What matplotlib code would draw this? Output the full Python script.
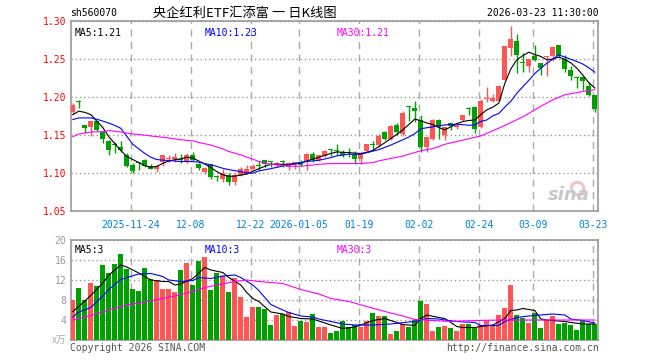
import matplotlib
matplotlib.use('Agg')
import matplotlib.pyplot as plt
import numpy as np

symbol = 'sh560070'
title = '央企红利ETF汇添富 一 日K线图'
stamp = '2026-03-23 11:30:00'

# daily candles, oldest first
opens = [1.180, 1.195, 1.163, 1.161, 1.168, 1.154, 1.143, 1.1375, 1.134, 1.124,
         1.111, 1.1135, 1.1175, 1.109, 1.106, 1.115, 1.119, 1.119, 1.119, 1.115,
         1.124, 1.112, 1.102, 1.112, 1.0953, 1.092, 1.0974, 1.089, 1.0978, 1.0991,
         1.1057, 1.110, 1.118, 1.1148, 1.112, 1.1155, 1.1083, 1.1105, 1.115, 1.115,
         1.125, 1.118, 1.1233, 1.131, 1.1295, 1.128, 1.1273, 1.125, 1.1184, 1.1295,
         1.1378, 1.1368, 1.154, 1.1456, 1.1632, 1.1513, 1.1873, 1.1851, 1.1697, 1.1346,
         1.1447, 1.1697, 1.1504, 1.1658, 1.1605, 1.1693, 1.1845, 1.1868, 1.1614, 1.1970,
         1.1943, 1.1952, 1.2228, 1.2645, 1.2741, 1.2458, 1.2404, 1.2535, 1.2447, 1.2524,
         1.2535, 1.268, 1.250, 1.2351, 1.2252, 1.2263, 1.214, 1.2031]
highs = [1.192, 1.196, 1.164, 1.168, 1.169, 1.155, 1.144, 1.141, 1.142, 1.126,
         1.114, 1.115, 1.119, 1.112, 1.111, 1.124, 1.124, 1.126, 1.125, 1.126,
         1.128, 1.113, 1.108, 1.112, 1.098, 1.1057, 1.100, 1.100, 1.108, 1.111,
         1.112, 1.116, 1.118, 1.116, 1.115, 1.118, 1.115, 1.115, 1.117, 1.126,
         1.128, 1.124, 1.130, 1.1315, 1.138, 1.130, 1.1335, 1.1295, 1.128, 1.139,
         1.1425, 1.152, 1.1557, 1.164, 1.1654, 1.182, 1.188, 1.1947, 1.176, 1.148,
         1.1715, 1.1715, 1.1613, 1.1658, 1.1645, 1.1768, 1.1868, 1.1886, 1.1974, 1.2132,
         1.2044, 1.2162, 1.2675, 1.2939, 1.2833, 1.2579, 1.2504, 1.2689, 1.2447, 1.2544,
         1.2667, 1.2689, 1.2557, 1.2404, 1.2272, 1.2281, 1.2193, 1.2031]
lows = [1.178, 1.186, 1.153, 1.149, 1.156, 1.140, 1.124, 1.127, 1.128, 1.108,
        1.100, 1.104, 1.108, 1.105, 1.101, 1.110, 1.115, 1.115, 1.114, 1.114,
        1.116, 1.104, 1.099, 1.0925, 1.090, 1.0885, 1.084, 1.084, 1.097, 1.0991,
        1.104, 1.104, 1.108, 1.108, 1.108, 1.108, 1.104, 1.106, 1.109, 1.1045,
        1.115, 1.116, 1.121, 1.123, 1.1235, 1.121, 1.121, 1.1127, 1.1127, 1.128,
        1.1302, 1.1346, 1.1434, 1.1434, 1.150, 1.149, 1.169, 1.1675, 1.128, 1.128,
        1.144, 1.1447, 1.1439, 1.157, 1.1585, 1.168, 1.1759, 1.1526, 1.160, 1.193,
        1.193, 1.1943, 1.222, 1.2535, 1.2316, 1.2325, 1.2325, 1.2469, 1.2294, 1.2272,
        1.2469, 1.2526, 1.2325, 1.2228, 1.2118, 1.2096, 1.2009, 1.1798]
closes = [1.189, 1.194, 1.159, 1.168, 1.157, 1.145, 1.130, 1.1365, 1.130, 1.110,
          1.1035, 1.113, 1.1097, 1.106, 1.109, 1.124, 1.120, 1.121, 1.118, 1.124,
          1.118, 1.107, 1.107, 1.0955, 1.0948, 1.100, 1.089, 1.0978, 1.1057, 1.1057,
          1.1097, 1.109, 1.1127, 1.1143, 1.114, 1.115, 1.114, 1.1145, 1.1114, 1.125,
          1.118, 1.1235, 1.129, 1.1305, 1.129, 1.1245, 1.1268, 1.1184, 1.1272, 1.1382,
          1.1374, 1.149, 1.1447, 1.1623, 1.1544, 1.1794, 1.1868, 1.182, 1.1346, 1.1478,
          1.1697, 1.161, 1.1605, 1.1623, 1.1636, 1.1759, 1.184, 1.1583, 1.1943, 1.1976,
          1.1987, 1.2149, 1.2675, 1.2768, 1.2548, 1.2454, 1.2504, 1.2491, 1.2382, 1.2528,
          1.2658, 1.2535, 1.2368, 1.2281, 1.2248, 1.2206, 1.2031, 1.1842]
volumes = [8.1, 10.5, 8.0, 11.5, 10.8, 15.0, 13.5, 15.2, 17.2, 14.3,
           10.3, 9.8, 14.5, 12.3, 12.0, 10.2, 10.2, 9.6, 14.0, 15.5,
           11.0, 15.9, 16.7, 10.0, 13.5, 12.9, 9.7, 12.5, 8.7, 4.7,
           6.7, 6.7, 6.2, 3.0, 5.0, 5.3, 5.7, 2.8, 3.9, 3.7,
           5.2, 2.7, 2.7, 1.5, 1.9, 3.9, 2.7, 3.0, 2.7, 3.9,
           5.5, 4.9, 4.9, 1.2, 1.9, 3.2, 2.7, 4.1, 7.9, 7.2,
           1.9, 2.7, 2.8, 2.5, 1.9, 3.3, 3.3, 2.5, 3.0, 3.9,
           3.1, 5.0, 6.5, 11.1, 5.0, 4.5, 3.5, 5.5, 2.5, 4.1,
           4.8, 3.2, 3.5, 3.0, 2.0, 3.9, 3.3, 3.3]

# moving averages (candle index, value)
ma5_i = [0, 1, 2, 3, 5, 6, 7, 8, 9, 10, 11, 12, 13, 14, 15, 16, 17, 18, 19, 20,
         21, 22, 23, 24, 25, 26, 27, 28, 29, 30, 31, 32, 33, 35, 36, 38, 39, 41, 43, 44,
         46, 48, 49, 50, 51, 52, 53, 54, 55, 56, 57, 58, 59, 60, 61, 62, 63, 64, 65, 66,
         67, 68, 69, 70, 71, 72, 73, 74, 75, 76, 77, 78, 79, 80, 81, 82, 83, 84, 85, 86, 87]
ma5_v = [1.177, 1.1815, 1.180, 1.177, 1.160, 1.148, 1.139, 1.130, 1.122, 1.118,
         1.114, 1.110, 1.108, 1.109, 1.113, 1.116, 1.1178, 1.119, 1.121, 1.120,
         1.116, 1.112, 1.1075, 1.1022, 1.098, 1.0958, 1.0962, 1.0975, 1.099, 1.1025,
         1.106, 1.109, 1.1118, 1.1118, 1.1114, 1.1136, 1.116, 1.121, 1.126, 1.128,
         1.127, 1.1259, 1.1275, 1.130, 1.135, 1.140, 1.1456, 1.151, 1.157, 1.164,
         1.1711, 1.169, 1.166, 1.164, 1.160, 1.157, 1.161, 1.165, 1.168, 1.1693,
         1.170, 1.177, 1.1833, 1.1868, 1.192, 1.218, 1.237, 1.249, 1.2544, 1.259,
         1.256, 1.2535, 1.2491, 1.250, 1.2526, 1.2495, 1.245, 1.238, 1.229, 1.219, 1.212]
ma10_i = [0, 1, 3, 4, 5, 6, 7, 8, 9, 10, 11, 12, 13, 14, 15, 16, 18, 20, 21, 23,
          24, 25, 26, 28, 29, 30, 31, 33, 35, 36, 38, 39, 41, 43, 44, 46, 48, 49, 51, 53,
          55, 56, 57, 58, 60, 62, 64, 66, 67, 68, 69, 70, 71, 72, 73, 74, 75, 76, 77, 78,
          79, 80, 81, 82, 84, 85, 86, 87]
ma10_v = [1.1705, 1.1727, 1.1727, 1.171, 1.1685, 1.166, 1.1628, 1.159, 1.1485, 1.138,
          1.132, 1.126, 1.121, 1.118, 1.1172, 1.1167, 1.1154, 1.1154, 1.1145, 1.111,
          1.109, 1.1065, 1.1048, 1.102, 1.1005, 1.100, 1.103, 1.106, 1.1095, 1.1114,
          1.1138, 1.1155, 1.117, 1.1205, 1.1228, 1.125, 1.125, 1.127, 1.131, 1.137,
          1.144, 1.1475, 1.152, 1.1585, 1.161, 1.1635, 1.1645, 1.163, 1.1635, 1.168,
          1.170, 1.1755, 1.1785, 1.187, 1.1945, 1.205, 1.2135, 1.222, 1.231, 1.238,
          1.2445, 1.250, 1.2555, 1.2526, 1.2469, 1.2435, 1.2385, 1.2328]
ma30_i = [0, 1, 3, 5, 6, 8, 10, 11, 13, 15, 16, 18, 20, 21, 23, 25, 26, 28, 30, 31,
          33, 35, 36, 38, 40, 41, 43, 48, 50, 51, 53, 55, 56, 58, 60, 61, 62, 64, 68, 71,
          75, 78, 80, 82, 85, 87]
ma30_v = [1.148, 1.1515, 1.1542, 1.1545, 1.156, 1.1542, 1.1515, 1.151, 1.149, 1.1472,
          1.1463, 1.144, 1.1425, 1.1405, 1.137, 1.132, 1.1286, 1.124, 1.1185, 1.1155,
          1.1118, 1.1102, 1.1092, 1.1092, 1.1108, 1.1118, 1.1127, 1.1128, 1.114, 1.1162,
          1.1195, 1.1225, 1.125, 1.1295, 1.1325, 1.135, 1.138, 1.1417, 1.149, 1.1592,
          1.174, 1.188, 1.1965, 1.203, 1.2075, 1.2096]

vma5_i = [0, 1, 3, 5, 6, 8, 9, 10, 11, 13, 15, 16, 17, 18, 20, 22, 23, 25, 26, 28,
          29, 30, 31, 33, 35, 36, 38, 40, 41, 43, 45, 47, 48, 50, 52, 53, 55, 57, 58, 59,
          61, 62, 64, 65, 67, 68, 70, 72, 73, 74, 75, 77, 78, 79, 80, 82, 83, 85, 87]
vma5_v = [5.7, 6.7, 8.9, 11.4, 13.0, 15.0, 14.6, 14.0, 13.4, 12.0, 11.7, 11.7, 11.0, 11.2,
          12.3, 14.5, 14.0, 13.5, 12.5, 11.0, 9.5, 8.3, 7.7, 5.6, 5.2, 4.7, 4.3, 4.2, 3.8,
          3.0, 2.3, 2.6, 3.0, 3.9, 4.3, 3.9, 3.1, 2.9, 4.3, 5.0, 4.5, 4.3, 2.7, 2.5, 2.5,
          2.7, 3.0, 4.3, 5.9, 6.0, 6.3, 5.9, 4.2, 4.0, 3.9, 3.7, 3.5, 3.2, 3.2]
vma10_i = [0, 1, 3, 5, 6, 8, 9, 11, 13, 15, 16, 18, 20, 21, 23, 25, 27, 28, 30, 31,
           33, 35, 36, 38, 40, 41, 43, 45, 47, 50, 53, 56, 57, 59, 61, 62, 64, 67, 68, 71,
           72, 74, 76, 78, 80, 82, 83, 85, 87]
vma10_v = [4.6, 5.6, 6.5, 8.8, 10.1, 12.1, 12.5, 13.2, 13.3, 12.7, 12.0, 11.7, 11.9,
           12.5, 12.3, 12.8, 13.0, 12.5, 11.0, 9.9, 7.1, 6.0, 5.5, 4.8, 4.6, 4.2, 3.7,
           3.2, 3.0, 3.0, 3.2, 3.6, 3.7, 4.3, 4.2, 4.0, 3.7, 3.5, 2.9, 2.9, 3.7, 4.5,
           4.8, 5.0, 5.2, 5.0, 4.2, 3.9, 3.4]
vma30_i = [0, 1, 3, 6, 9, 12, 15, 17, 20, 22, 24, 27, 29, 31, 35, 38, 41, 43, 46, 49,
           52, 55, 57, 60, 63, 67, 72, 87]
vma30_v = [4.0, 4.3, 4.9, 6.0, 7.0, 7.6, 8.3, 8.8, 9.7, 10.5, 11.0, 11.7, 12.0, 11.7,
           11.3, 10.1, 9.2, 8.3, 7.7, 6.7, 5.7, 4.8, 4.1, 3.9, 3.7, 3.9, 4.0, 4.0]

date_pos = [10, 20, 30, 38, 48, 58, 68, 77, 87]
date_labels = ['2025-11-24', '12-08', '12-22', '2026-01-05', '01-19',
               '02-02', '02-24', '03-09', '03-23']
price_ticks = [1.30, 1.25, 1.20, 1.15, 1.10, 1.05]
vol_ticks = [4, 8, 12, 16, 20]

UP = '#ff5555'
DOWN = '#00a000'
FRAME = '#999999'
MONO = 'DejaVu Sans Mono'

W, H = 660, 360
fig = plt.figure(figsize=(W / 100, H / 100), dpi=100)
fig.patch.set_facecolor('white')


def px_axes(x0, y0, x1, y1):
    return fig.add_axes([x0 / W, 1 - y1 / H, (x1 - x0) / W, (y1 - y0) / H])


ax = px_axes(70.7, 21, 597.5, 211.3)
axv = px_axes(70.7, 240, 597.5, 340)

idx = np.arange(len(closes))
o = np.array(opens)
c = np.array(closes)
up = c >= o
colors = np.where(up, UP, DOWN)
grid_x = [p - 0.33 for p in date_pos]

for a in (ax, axv):
    a.set_xlim(-0.35, 87.45)
    for s in a.spines.values():
        s.set_color(FRAME)
        s.set_linewidth(1.2)
    a.set_xticks(grid_x)
    a.tick_params(length=0)
    a.xaxis.grid(True, color='#aaaaaa', linestyle=(0, (5, 4)), linewidth=1.0)
    a.yaxis.grid(True, color='#999999', linestyle=(0, (1, 2)), linewidth=1.0)
    a.set_axisbelow(True)

# price panel
ax.set_ylim(1.05, 1.30)
ax.set_yticks(price_ticks)
ax.set_yticklabels(['%.2f' % p for p in price_ticks], color='red',
                   fontfamily=MONO, fontsize=7)
ax.set_xticklabels(date_labels, color='#0080e0', fontfamily=MONO, fontsize=7)
ax.tick_params(axis='x', pad=6)
ax.tick_params(axis='y', pad=3)

ax.vlines(idx, lows, highs, colors=colors, linewidth=1.0, zorder=3)
body = np.maximum(np.abs(c - o), 0.0013)
ax.bar(idx, body, bottom=np.minimum(o, c), width=0.8, color=colors,
       linewidth=0, zorder=4)

ax.plot(ma5_i, ma5_v, color='black', linewidth=0.8, zorder=5)
ax.plot(ma10_i, ma10_v, color='#0000ff', linewidth=0.8, zorder=5)
ax.plot(ma30_i, ma30_v, color='#ff00ff', linewidth=0.8, zorder=5)

ax.text(0.008, 0.965, 'MA5:1.21', transform=ax.transAxes, color='black',
        fontfamily=MONO, fontsize=7, va='top')
ax.text(0.255, 0.965, 'MA10:1.23', transform=ax.transAxes, color='#0000ff',
        fontfamily=MONO, fontsize=7, va='top')
ax.text(0.505, 0.965, 'MA30:1.21', transform=ax.transAxes, color='#ff00ff',
        fontfamily=MONO, fontsize=7, va='top')

# sina watermark
ax.plot([0.962], [0.125], transform=ax.transAxes, marker='o', markersize=9,
        markerfacecolor='none', markeredgecolor='#f3c4c4', markeredgewidth=2.2,
        zorder=1)
ax.text(0.945, 0.04, 'sina', transform=ax.transAxes, color='#c8c8c8',
        fontsize=13, fontweight='bold', style='italic', ha='center', va='bottom',
        zorder=2)

# volume panel
axv.set_ylim(0, 20)
axv.set_yticks(vol_ticks)
axv.set_yticklabels([str(v) for v in vol_ticks], color='#999999',
                    fontfamily=MONO, fontsize=7)
axv.set_xticklabels([])
axv.tick_params(axis='y', pad=3)
axv.bar(idx, volumes, width=0.8, color=colors, linewidth=0, zorder=3)
axv.plot(vma5_i, vma5_v, color='black', linewidth=0.8, zorder=5)
axv.plot(vma10_i, vma10_v, color='#0000ff', linewidth=0.8, zorder=5)
axv.plot(vma30_i, vma30_v, color='#ff00ff', linewidth=0.8, zorder=5)
axv.text(0.008, 0.95, 'MA5:3', transform=axv.transAxes, color='black',
         fontfamily=MONO, fontsize=7, va='top')
axv.text(0.255, 0.95, 'MA10:3', transform=axv.transAxes, color='#0000ff',
         fontfamily=MONO, fontsize=7, va='top')
axv.text(0.505, 0.95, 'MA30:3', transform=axv.transAxes, color='#ff00ff',
         fontfamily=MONO, fontsize=7, va='top')
axv.text(-0.008, 0.0, 'x万', transform=axv.transAxes, color='#aaaaaa',
         fontfamily=['Noto Sans CJK SC', 'DejaVu Sans'], fontsize=7,
         ha='right', va='center')

# header and footer
fig.text(70 / W, 1 - 13 / H, symbol, fontfamily=MONO, fontsize=7, va='center')
fig.text(245 / W, 1 - 13 / H, title, fontfamily=['Noto Sans CJK SC', 'DejaVu Sans'],
         fontsize=9.5, ha='center', va='center')
fig.text(599 / W, 1 - 13 / H, stamp, fontfamily=MONO, fontsize=7,
         ha='right', va='center')
fig.text(70 / W, 1 - 348 / H, 'Copyright 2026 SINA.COM', fontfamily=MONO,
         fontsize=7, color='#555555', va='center')
fig.text(599 / W, 1 - 348 / H, 'http://finance.sina.com.cn', fontfamily=MONO,
         fontsize=7, color='#555555', ha='right', va='center')

fig.savefig('out.png', dpi=100)
